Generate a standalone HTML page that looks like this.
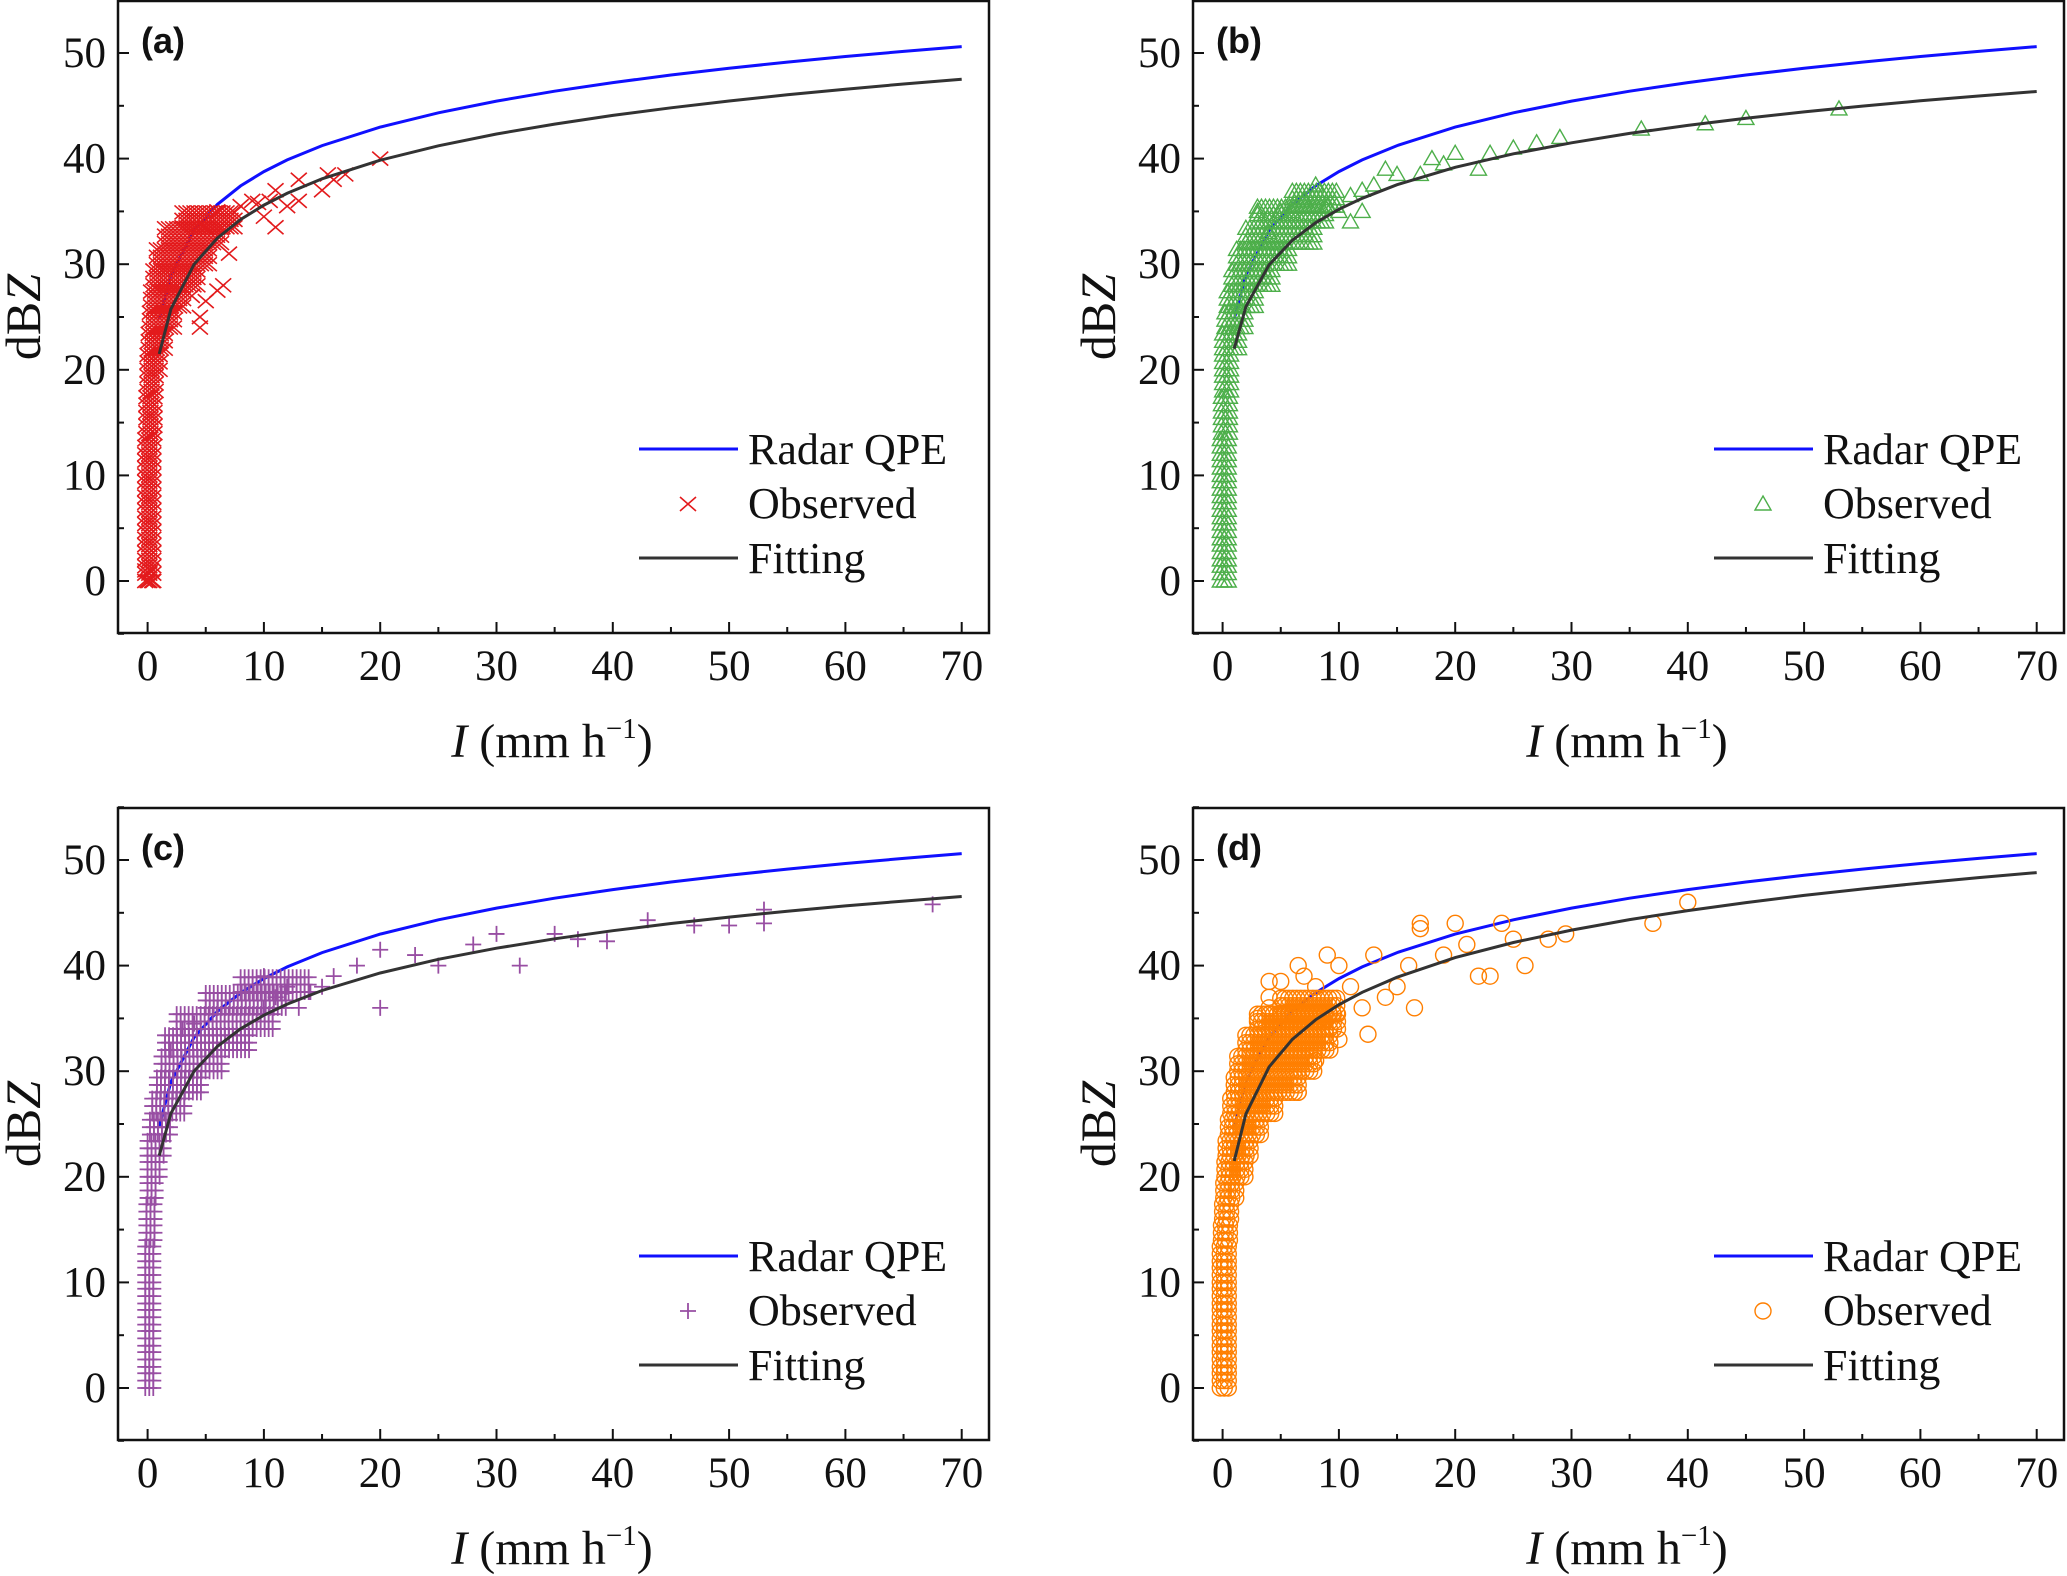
<!DOCTYPE html>
<html><head><meta charset="utf-8"><style>
html,body{margin:0;padding:0;background:#fff;}
svg{display:block;}
text{font-family:"Liberation Serif",serif;fill:#111;}
</style></head><body>
<svg id="fig" width="2067" height="1576" viewBox="0 0 2067 1576" xmlns="http://www.w3.org/2000/svg"></svg>
<script>
const xTicks=[0,10,20,30,40,50,60,70];
const yTicks=[0,10,20,30,40,50];
const panelLabels=["(a)","(b)","(c)","(d)"];
const radarA=24.77, radarB=14.0;
const fitA=[21.5,22,22,21.5];
const fitB=[14.1,13.2,13.3,14.8];
const fitR=[1,2,4,6,8,10,12,15,20,25,30,35,40,45,50,55,60,65,70];
// dense cloud envelope rows: [dBZ, Rmin, Rmax]
const envA=[[0,-0.2,0.5],[2,-0.2,0.5],[4,-0.2,0.5],[6,-0.2,0.5],[8,-0.2,0.6],[10,-0.2,0.6],[12,-0.2,0.7],[14,-0.1,0.8],[16,-0.1,0.9],[18,0,1.0],[20,0,1.2],[22,0.1,1.6],[24,0.2,2.3],[26,0.3,3.2],[28,0.5,4.3],[30,0.8,5.5],[32,1.5,6.5],[33.5,3,7.5]];
const envB=[[0,-0.2,0.5],[2,-0.2,0.5],[4,-0.2,0.5],[6,-0.2,0.5],[8,-0.2,0.5],[10,-0.2,0.6],[12,-0.2,0.6],[14,-0.1,0.7],[16,-0.1,0.8],[18,0,0.9],[20,0,1.0],[22,0,1.4],[24,0.2,2],[26,0.4,3],[28,0.8,4.5],[30,1.2,6],[32,2,8],[34,3,9],[35.5,6,10]];
const envC=[[0,-0.2,0.5],[2,-0.2,0.5],[4,-0.2,0.5],[6,-0.2,0.5],[8,-0.2,0.5],[10,-0.2,0.6],[12,-0.2,0.6],[14,-0.1,0.7],[16,-0.1,0.8],[18,0,0.9],[20,0,1.1],[22,0,1.5],[24,0.2,2.2],[26,0.4,3.2],[28,0.8,4.8],[30,1.2,6.5],[32,1.5,9],[34,2.5,11],[36,5,12],[37.5,8,14]];
const envD=[[0,-0.2,0.6],[2,-0.2,0.6],[4,-0.2,0.6],[6,-0.2,0.6],[8,-0.2,0.7],[10,-0.2,0.7],[12,-0.2,0.7],[14,-0.1,0.8],[16,0,1],[18,0.1,1.4],[20,0.2,2],[22,0.3,2.6],[24,0.5,3.5],[26,0.7,4.5],[28,1,6.5],[30,1.3,8],[32,2,9.5],[34,3,10],[35.5,5,10]];
const envelopes=[envA,envB,envC,envD];
const obsA=[[0,0],[0.4,0],[-0.2,1],[0.3,1],[4.5,25],[6,27.5],[6.5,28],[7,31],[5,26.5],[3.8,27],[6,35],[8,35.5],[9,36],[10,34.5],[10.5,36],[11,33.5],[11,37],[12,35.5],[13,38],[13,36],[15,37],[15.5,38.5],[17,38.5],[20,40],[16,38],[9.5,35.8],[4.5,24],[5,33.5]];
const obsB=[[2,32],[3,35],[4,33],[5,35],[6,35],[7,36],[8,37.5],[9,35.5],[10,35],[11,36.5],[12,37],[13,37.5],[14,39],[15,38.5],[17,38.5],[18,40],[19,39.5],[20,40.5],[22,39],[23,40.5],[25,41],[27,41.5],[29,42],[36,42.8],[41.5,43.3],[45,43.8],[53,44.7],[11,34],[12,35]];
const obsC=[[2,32],[3,34],[4,34.5],[6,36],[8,37.5],[10,39],[10,36],[12,38],[13,36],[14,37.5],[16,39],[18,40],[20,41.5],[20,36],[23,41],[25,40],[28,42],[30,43],[32,40],[35,43],[37,42.5],[39.5,42.3],[43,44.3],[47,43.8],[50,43.8],[53,44],[53,45.3],[67.5,45.8],[11,37],[15,38]];
const obsD=[[6.5,28],[8,31],[12.5,33.5],[4,36],[3,35],[4,37],[5,38.5],[7,39],[8,38],[9,41],[10,40],[11,38],[12,36],[13,41],[14,37],[15,38],[16,40],[16.5,36],[17,43.5],[17,44],[19,41],[20,44],[21,42],[22,39],[23,39],[24,44],[25,42.5],[26,40],[28,42.5],[29.5,43],[37,44],[40,46],[6.5,40],[4,38.5],[9,35],[10,33]];
const observed=[obsA,obsB,obsC,obsD];
const colors=["#e31a1c","#4daf4a","#984ea3","#ff7f00"];
const markerTypes=["x","tri","plus","circ"];
const offsets=[[0,0],[1075,0],[0,807],[1075,807]];

const NS="http://www.w3.org/2000/svg";
const fig=document.getElementById("fig");
function mk(tag,attrs,parent){const e=document.createElementNS(NS,tag);for(const k in attrs)e.setAttribute(k,attrs[k]);parent.appendChild(e);return e;}
const X0=147.6, XS=11.63, Y0=581, YS=10.56;
function xs(r){return X0+r*XS;}
function ys(d){return Y0-d*YS;}

function marker(type,cx,cy,col,parent){
  let e;
  if(type==="x"){e=mk("path",{d:`M${cx-8} ${cy-7}L${cx+8} ${cy+7}M${cx-8} ${cy+7}L${cx+8} ${cy-7}`,stroke:col,"stroke-width":1.6,fill:"none"},parent);}
  else if(type==="plus"){e=mk("path",{d:`M${cx-8} ${cy}L${cx+8} ${cy}M${cx} ${cy-8}L${cx} ${cy+8}`,stroke:col,"stroke-width":1.8,fill:"none"},parent);}
  else if(type==="tri"){e=mk("path",{d:`M${cx} ${cy-8}L${cx+8} ${cy+6}L${cx-8} ${cy+6}Z`,stroke:col,"stroke-width":1.4,fill:"none"},parent);}
  else {e=mk("circle",{cx:cx,cy:cy,r:8,stroke:col,"stroke-width":1.4,fill:"none"},parent);}
  return e;
}

for(let p=0;p<4;p++){
  const g=mk("g",{transform:`translate(${offsets[p][0]},${offsets[p][1]})`},fig);
  
  
  let d="";
  fitR.forEach((r,i)=>{d+=(i?"L":"M")+xs(r).toFixed(1)+" "+ys(radarA+radarB*Math.log10(r)).toFixed(1);});
  const rl=mk("path",{d:d,stroke:"#1010ff","stroke-width":3,fill:"none"},g);
  
  
  const sg=mk("g",{},g);
  
  
  envelopes[p].forEach(row=>{
    for(let k=0;k<3;k++){
      const dv=row[0]+k*0.7;
      const x1=xs(row[1]), x2=xs(row[2]);
      for(let x=x1;x<=x2+0.1;x+=4){
        const e=marker(markerTypes[p],x,ys(dv),colors[p],sg);
        
        
      }
    }
  });
  observed[p].forEach(pt=>{
    const e=marker(markerTypes[p],xs(pt[0]),ys(pt[1]),colors[p],sg);
    
    
  });
  d="";
  fitR.forEach((r,i)=>{d+=(i?"L":"M")+xs(r).toFixed(1)+" "+ys(fitA[p]+fitB[p]*Math.log10(r)).toFixed(1);});
  const fl=mk("path",{d:d,stroke:"#333","stroke-width":3,fill:"none"},g);
  
  
  const fr=mk("rect",{x:118,y:1,width:871,height:632,fill:"none",stroke:"#111","stroke-width":2.5},g);
  
  
  for(let v=0;v<=70;v+=5){
    const len=(v%10===0)?11:6;
    const t=mk("line",{x1:xs(v),x2:xs(v),y1:633,y2:633-len,stroke:"#111","stroke-width":2},g);
    
    
  }
  xTicks.forEach(v=>{
    const t=mk("text",{x:xs(v),y:680,"font-size":43,"text-anchor":"middle"},g);
    t.textContent=v;
    
    
  });
  for(let v=-5;v<=55;v+=5){
    const len=(v%10===0)?11:6;
    const t=mk("line",{x1:118,x2:118+len,y1:ys(v),y2:ys(v),stroke:"#111","stroke-width":2},g);
    
    
  }
  yTicks.forEach(v=>{
    const t=mk("text",{x:106,y:ys(v)+14,"font-size":43,"text-anchor":"end"},g);
    t.textContent=v;
    
    
  });
  const xt=mk("text",{x:552,y:757,"font-size":48,"text-anchor":"middle"},g);
  xt.innerHTML='<tspan font-style="italic">I</tspan> (mm h<tspan dy="-19" font-size="29">−1</tspan><tspan dy="19">)</tspan>';
  
  
  const yt=mk("text",{x:0,y:0,"font-size":50,"text-anchor":"middle",transform:"translate(40,317) rotate(-90)"},g);
  yt.innerHTML='dB<tspan font-style="italic">Z</tspan>';
  
  
  const pl=mk("text",{x:141,y:53,"font-size":36,"font-weight":"bold",style:"font-family:'Liberation Sans',sans-serif"},g);
  pl.textContent=panelLabels[p];
  
  
  const lg=mk("g",{},g);
  
  
  const l1=mk("line",{x1:639,x2:738,y1:449,y2:449,stroke:"#1010ff","stroke-width":3},lg);
  
  
  const t1=mk("text",{x:748,y:464,"font-size":44},lg);t1.textContent="Radar QPE";
  
  
  const m=marker(markerTypes[p],688,504,colors[p],lg);
  
  
  const t2=mk("text",{x:748,y:518,"font-size":44},lg);t2.textContent="Observed";
  
  
  const l3=mk("line",{x1:639,x2:738,y1:558,y2:558,stroke:"#333","stroke-width":3},lg);
  
  
  const t3=mk("text",{x:748,y:573,"font-size":44},lg);t3.textContent="Fitting";
  
  
}
</script>
</body></html>
